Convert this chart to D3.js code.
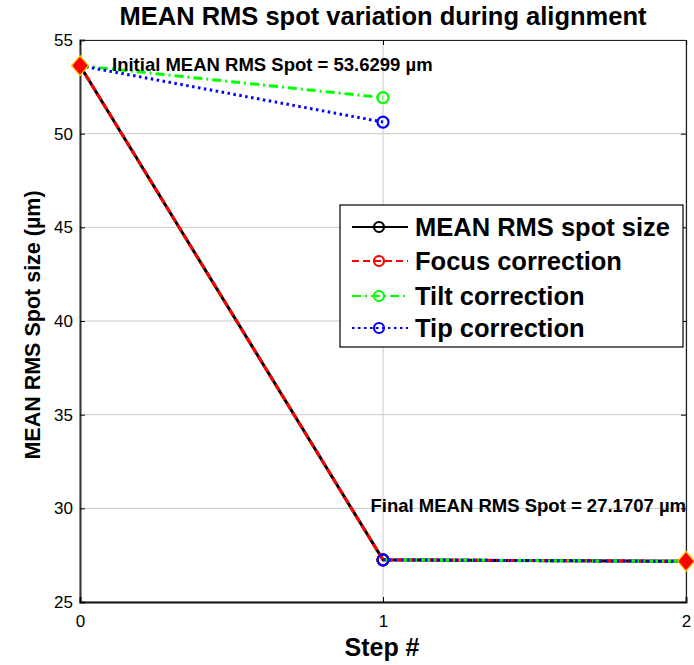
<!DOCTYPE html>
<html>
<head>
<meta charset="utf-8">
<script src="https://cdn.jsdelivr.net/npm/d3@7"></script>
<style>
  body { margin: 0; background: #fff; }
  svg { display: block; font-family: Arial, "Liberation Sans", sans-serif; }
</style>
</head>
<body>
<svg id="chart" width="694" height="665"></svg>
<script>
// Alignment steps and RMS spot sizes (µm)
const steps = [0, 1, 2];
const meanRms = [53.6299, 27.25, 27.1707];
const focusCorr = [53.6299, 27.25, 27.1707];
// Tilt / tip corrections: first segment (step 0 -> 1), then the converged segment (1 -> 2)
const tiltSteps = [0, 1];
const tiltCorr = [53.6299, 51.92];
const tipSteps = [0, 1];
const tipCorr = [53.6299, 50.62];
const convSteps = [1, 2];
const convValues = [27.25, 27.1707];
const yTicks = [25, 30, 35, 40, 45, 50, 55];
const xTicks = [0, 1, 2];
const initialSpot = 53.6299;
const finalSpot = 27.1707;

const svg = d3.select("#chart");
const margin = { left: 80, right: 8, top: 40, bottom: 63 };
const W = 694, H = 665;
const x = d3.scaleLinear().domain([0, 2]).range([margin.left, W - margin.right]);
const y = d3.scaleLinear().domain([25, 55]).range([H - margin.bottom, margin.top]);

// grid
const grid = svg.append("g").attr("stroke", "#c8c8c8").attr("stroke-width", 1);
yTicks.forEach(t => grid.append("line")
  .attr("x1", x(0)).attr("x2", x(2)).attr("y1", y(t)).attr("y2", y(t)));
xTicks.forEach(t => grid.append("line")
  .attr("x1", x(t)).attr("x2", x(t)).attr("y1", y(25)).attr("y2", y(55)));

// axes
const yAxis = svg.append("g").attr("transform", `translate(${x(0)},0)`)
  .call(d3.axisLeft(y).tickValues(yTicks).tickSize(-5).tickPadding(7).tickFormat(d3.format("d")));
const xAxis = svg.append("g").attr("transform", `translate(0,${y(25)})`)
  .call(d3.axisBottom(x).tickValues(xTicks).tickSize(-5).tickPadding(13).tickFormat(d3.format("d")));
svg.append("g").attr("transform", `translate(${x(2)},0)`)
  .call(d3.axisRight(y).tickValues(yTicks).tickSize(-5).tickFormat(""));
svg.append("g").attr("transform", `translate(0,${y(55)})`)
  .call(d3.axisTop(x).tickValues(xTicks).tickSize(-5).tickFormat(""));
svg.selectAll(".domain").attr("stroke", "#222").attr("stroke-width", 1.2);
svg.selectAll(".tick line").attr("stroke", "#000");
[yAxis, xAxis].forEach(a => a.selectAll("text")
  .attr("font-size", 17).attr("font-family", "Arial, 'Liberation Sans', sans-serif").attr("fill", "#000"));
yAxis.select(".domain").attr("stroke-width", 2).attr("stroke", "#333");
xAxis.select(".domain").attr("stroke-width", 2).attr("stroke", "#111");

const line = d3.line().x(d => x(d[0])).y(d => y(d[1]));
const pts = (xs, ys) => xs.map((s, i) => [s, ys[i]]);

function series(xs, ys, color, dash, width) {
  svg.append("path").datum(pts(xs, ys))
    .attr("d", line).attr("fill", "none")
    .attr("stroke", color).attr("stroke-width", width)
    .attr("stroke-dasharray", dash);
}
function circles(xs, ys, color) {
  svg.append("g").selectAll("circle").data(pts(xs, ys)).join("circle")
    .attr("cx", d => x(d[0])).attr("cy", d => y(d[1])).attr("r", 5.5)
    .attr("fill", "none").attr("stroke", color).attr("stroke-width", 2.2);
}

series(steps, meanRms, "#000", null, 3);
series(steps, focusCorr, "#ff0000", "7,4", 3);
series(tiltSteps, tiltCorr, "#00ff00", "9,4,2,4", 3);
series(convSteps, convValues, "#00ff00", "9,4,2,4", 3);
series(tipSteps, tipCorr, "#0000ff", "2.5,3.5", 3);
series(convSteps, convValues, "#0000ff", "2.5,3.5", 3);

circles(steps, meanRms, "#000");
circles(steps, focusCorr, "#ff0000");
circles(tiltSteps.slice(1), tiltCorr.slice(1), "#00ff00");
circles(tipSteps.slice(1), tipCorr.slice(1), "#0000ff");
circles([1], [convValues[0]], "#0000ff");

// start and end highlight markers (MATLAB-style diamond)
const diamond = {
  draw(ctx, size) {
    const h = Math.sqrt(size) * 0.72, w = h * 0.85;
    ctx.moveTo(0, -h); ctx.lineTo(w, 0); ctx.lineTo(0, h); ctx.lineTo(-w, 0); ctx.closePath();
  }
};
svg.append("g").selectAll("path").data([[0, initialSpot], [2, finalSpot]]).join("path")
  .attr("d", d3.symbol().type(diamond).size(190))
  .attr("transform", d => `translate(${x(d[0])},${y(d[1])})`)
  .attr("fill", "#ff0000").attr("stroke", "#ffd000").attr("stroke-width", 1.3);

// annotations
svg.append("text").attr("x", 112).attr("y", 71)
  .attr("font-size", 18.5).attr("font-weight", "bold")
  .text(`Initial MEAN RMS Spot = ${initialSpot.toFixed(4)} µm`);
svg.append("text").attr("x", 686).attr("y", 512)
  .attr("text-anchor", "end").attr("font-size", 18.5).attr("font-weight", "bold")
  .text(`Final MEAN RMS Spot = ${finalSpot.toFixed(4)} µm`);

// titles
svg.append("text").attr("x", 383).attr("y", 25)
  .attr("text-anchor", "middle").attr("font-size", 25.5).attr("font-weight", "bold")
  .text("MEAN RMS spot variation during alignment");
svg.append("text").attr("x", 382).attr("y", 656)
  .attr("text-anchor", "middle").attr("font-size", 25).attr("font-weight", "bold")
  .text("Step #");
svg.append("text")
  .attr("transform", `translate(40,${(162 + 488) / 2}) rotate(-90)`)
  .attr("text-anchor", "middle").attr("font-size", 21.5).attr("font-weight", "bold")
  .text("MEAN RMS Spot size (µm)");

// legend
const legendItems = [
  { name: "MEAN RMS spot size", color: "#000", dash: null },
  { name: "Focus correction", color: "#ff0000", dash: "7,4" },
  { name: "Tilt correction", color: "#00ff00", dash: "9,4,2,4" },
  { name: "Tip correction", color: "#0000ff", dash: "2.5,3.5" }
];
const lg = svg.append("g").attr("transform", "translate(340,205)");
lg.append("rect").attr("width", 343).attr("height", 142)
  .attr("fill", "#fff").attr("stroke", "#000").attr("stroke-width", 1.2);
const rowY = [22, 56, 91, 123];
legendItems.forEach((d, i) => {
  const cy = rowY[i];
  lg.append("line").attr("x1", 12).attr("x2", 68).attr("y1", cy).attr("y2", cy)
    .attr("stroke", d.color).attr("stroke-width", 2.2).attr("stroke-dasharray", d.dash);
  lg.append("circle").attr("cx", 39).attr("cy", cy).attr("r", 5)
    .attr("fill", "none").attr("stroke", d.color).attr("stroke-width", 2.2);
  lg.append("text").attr("x", 75).attr("y", cy + 9)
    .attr("font-size", 25.5).attr("font-weight", "bold").text(d.name);
});
</script>
</body>
</html>
